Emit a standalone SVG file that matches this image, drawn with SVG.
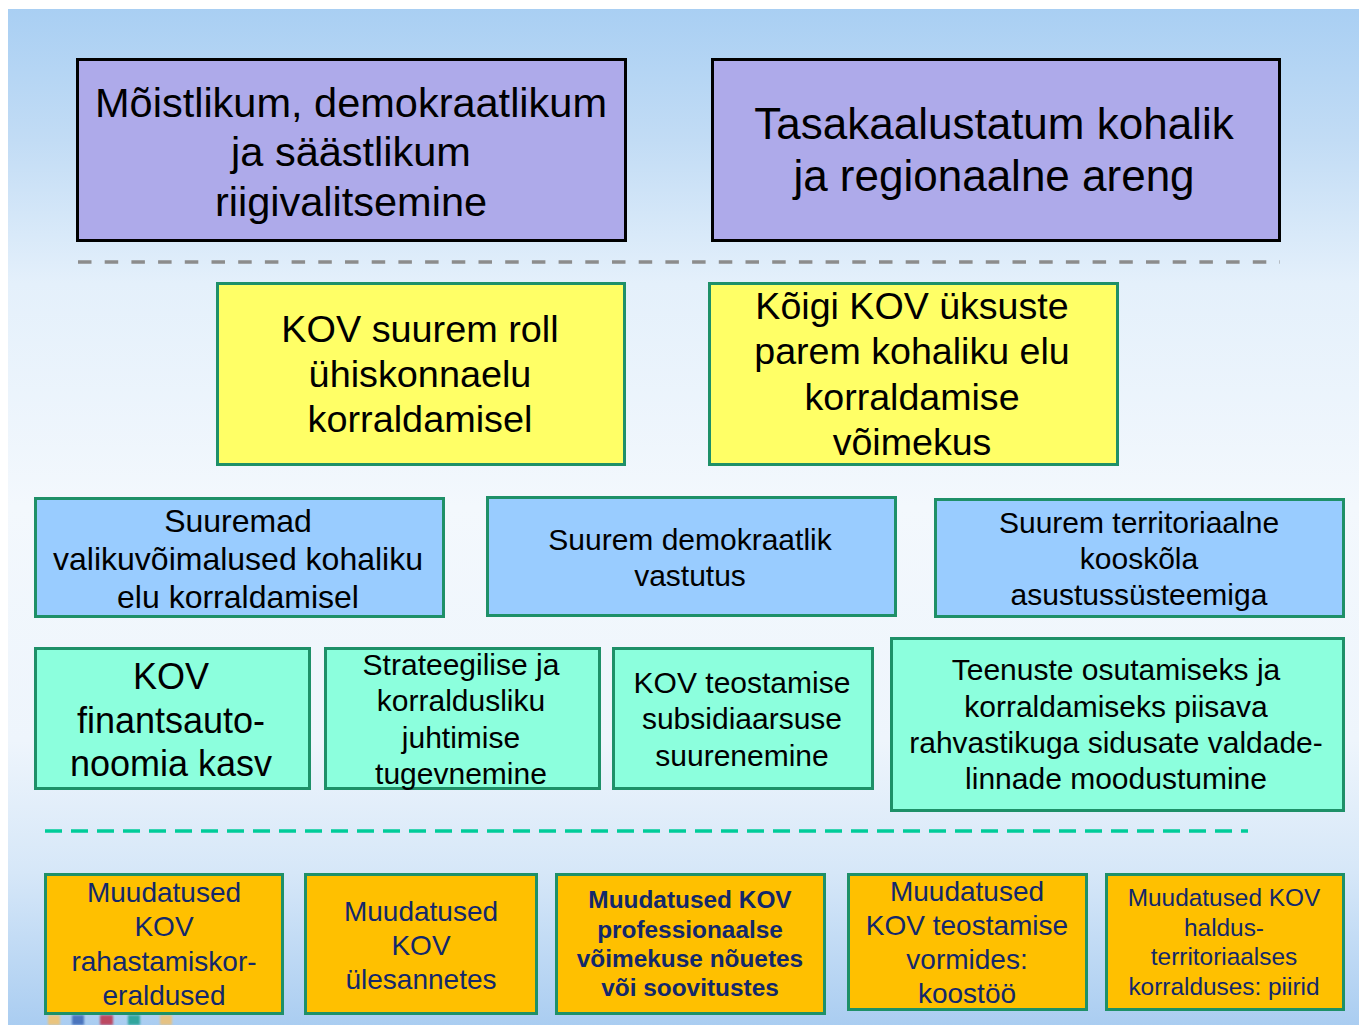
<svg xmlns="http://www.w3.org/2000/svg" width="1359" height="1025" viewBox="0 0 1359 1025">
  <defs>
    <linearGradient id="bgGrad" x1="0" y1="0" x2="0" y2="1">
      <stop offset="0" stop-color="#a9cff3"/>
      <stop offset="0.13" stop-color="#c2dcf5"/>
      <stop offset="0.27" stop-color="#e4f0fb"/>
      <stop offset="0.49" stop-color="#f3f8fd"/>
      <stop offset="0.72" stop-color="#eef5fc"/>
      <stop offset="0.85" stop-color="#d6e7f8"/>
      <stop offset="1" stop-color="#aacdf1"/>
    </linearGradient>
    <filter id="soft" x="-20%" y="-20%" width="140%" height="140%">
      <feGaussianBlur stdDeviation="1.2"/>
    </filter>
    <style>
      .t { font-family: "Liberation Sans", Arial, sans-serif; text-anchor: middle; fill: #000; }
      .navy { fill: #13286b; }
      .bold { font-weight: bold; }
      .goal { fill: #aeaaea; stroke: #000; stroke-width: 3; }
      .aim { fill: #ffff66; stroke: #1e9068; stroke-width: 3; }
      .res { fill: #99ccff; stroke: #1e9068; stroke-width: 3; }
      .out { fill: #8cffdd; stroke: #1e9068; stroke-width: 3; }
      .chg { fill: #ffc000; stroke: #1e9068; stroke-width: 3; }
      .sepGray { stroke: #8c8c8c; stroke-width: 3.5; stroke-dasharray: 13.5 13.2; fill: none; }
      .sepGreen { stroke: #00cc99; stroke-width: 3.5; stroke-dasharray: 17 9; fill: none; }
    </style>
  </defs>

  <!-- page background -->
  <rect x="0" y="0" width="1359" height="1025" fill="#ffffff"/>
  <rect x="8" y="9" width="1351" height="1016" fill="url(#bgGrad)"/>
  <g id="footer-stripes" filter="url(#soft)" opacity="0.85">
    <rect x="48" y="1015" width="12" height="10" fill="#f5c36a"/>
    <rect x="72" y="1015" width="12" height="10" fill="#3a66b5"/>
    <rect x="100" y="1015" width="13" height="10" fill="#c0334a"/>
    <rect x="128" y="1015" width="12" height="10" fill="#1aa090"/>
    <rect x="160" y="1015" width="12" height="10" fill="#f0c070"/>
  </g>

  <!-- separators -->
  <g id="connectors">
    <line class="sepGray" x1="78" y1="262" x2="1280" y2="262"/>
    <line class="sepGreen" x1="45" y1="831" x2="1248" y2="831"/>
  </g>

  <!-- top goals -->
  <g id="goal-1">
    <rect class="goal" x="77.5" y="59.5" width="548" height="181"/>
    <text class="t" font-size="41.5" x="351" y="117">Mõistlikum, demokraatlikum</text>
    <text class="t" font-size="41.5" x="351" y="166">ja säästlikum</text>
    <text class="t" font-size="41.5" x="351" y="216">riigivalitsemine</text>
  </g>
  <g id="goal-2">
    <rect class="goal" x="712.5" y="59.5" width="567" height="181"/>
    <text class="t" font-size="44" x="994" y="139">Tasakaalustatum kohalik</text>
    <text class="t" font-size="44" x="994" y="191">ja regionaalne areng</text>
  </g>

  <!-- aims -->
  <g id="aim-1">
    <rect class="aim" x="217.5" y="283.5" width="407" height="181"/>
    <text class="t" font-size="37.8" x="420" y="342">KOV suurem roll</text>
    <text class="t" font-size="37.8" x="420" y="387">ühiskonnaelu</text>
    <text class="t" font-size="37.8" x="420" y="432">korraldamisel</text>
  </g>
  <g id="aim-2">
    <rect class="aim" x="709.5" y="283.5" width="408" height="181"/>
    <text class="t" font-size="37.6" x="912" y="319">Kõigi KOV üksuste</text>
    <text class="t" font-size="37.6" x="912" y="364">parem kohaliku elu</text>
    <text class="t" font-size="37.6" x="912" y="410">korraldamise</text>
    <text class="t" font-size="37.6" x="912" y="455">võimekus</text>
  </g>

  <!-- results -->
  <g id="result-1">
    <rect class="res" x="35.5" y="498.5" width="408" height="118"/>
    <text class="t" font-size="32" x="238" y="532">Suuremad</text>
    <text class="t" font-size="32" x="238" y="570">valikuvõimalused kohaliku</text>
    <text class="t" font-size="32" x="238" y="608">elu korraldamisel</text>
  </g>
  <g id="result-2">
    <rect class="res" x="487.5" y="497.5" width="408" height="118"/>
    <text class="t" font-size="30" x="690" y="550">Suurem demokraatlik</text>
    <text class="t" font-size="30" x="690" y="586">vastutus</text>
  </g>
  <g id="result-3">
    <rect class="res" x="935.5" y="499.5" width="408" height="117"/>
    <text class="t" font-size="30" x="1139" y="533">Suurem territoriaalne</text>
    <text class="t" font-size="30" x="1139" y="569">kooskõla</text>
    <text class="t" font-size="30" x="1139" y="605">asustussüsteemiga</text>
  </g>

  <!-- outcomes -->
  <g id="outcome-1">
    <rect class="out" x="35.5" y="648.5" width="274" height="140"/>
    <text class="t" font-size="36" x="171" y="689">KOV</text>
    <text class="t" font-size="36" x="171" y="733">finantsauto-</text>
    <text class="t" font-size="36" x="171" y="776">noomia kasv</text>
  </g>
  <g id="outcome-2">
    <rect class="out" x="325.5" y="648.5" width="274" height="140"/>
    <text class="t" font-size="30" x="461" y="675">Strateegilise ja</text>
    <text class="t" font-size="30" x="461" y="711">korraldusliku</text>
    <text class="t" font-size="30" x="461" y="748">juhtimise</text>
    <text class="t" font-size="30" x="461" y="784">tugevnemine</text>
  </g>
  <g id="outcome-3">
    <rect class="out" x="613.5" y="648.5" width="259" height="140"/>
    <text class="t" font-size="30" x="742" y="693">KOV teostamise</text>
    <text class="t" font-size="30" x="742" y="729">subsidiaarsuse</text>
    <text class="t" font-size="30" x="742" y="766">suurenemine</text>
  </g>
  <g id="outcome-4">
    <rect class="out" x="891.5" y="638.5" width="452" height="172"/>
    <text class="t" font-size="30" x="1116" y="680">Teenuste osutamiseks ja</text>
    <text class="t" font-size="30" x="1116" y="717">korraldamiseks piisava</text>
    <text class="t" font-size="30" x="1116" y="753">rahvastikuga sidusate valdade-</text>
    <text class="t" font-size="30" x="1116" y="789">linnade moodustumine</text>
  </g>

  <!-- changes -->
  <g id="change-1">
    <rect class="chg" x="45.5" y="874.5" width="237" height="139"/>
    <text class="t navy" font-size="28" x="164" y="902">Muudatused</text>
    <text class="t navy" font-size="28" x="164" y="936">KOV</text>
    <text class="t navy" font-size="28" x="164" y="971">rahastamiskor-</text>
    <text class="t navy" font-size="28" x="164" y="1005">eraldused</text>
  </g>
  <g id="change-2">
    <rect class="chg" x="305.5" y="874.5" width="231" height="139"/>
    <text class="t navy" font-size="28" x="421" y="921">Muudatused</text>
    <text class="t navy" font-size="28" x="421" y="955">KOV</text>
    <text class="t navy" font-size="28" x="421" y="989">ülesannetes</text>
  </g>
  <g id="change-3">
    <rect class="chg" x="556.5" y="874.5" width="268" height="139"/>
    <text class="t navy bold" font-size="24.4" x="690" y="908">Muudatused KOV</text>
    <text class="t navy bold" font-size="24.4" x="690" y="938">professionaalse</text>
    <text class="t navy bold" font-size="24.4" x="690" y="967">võimekuse nõuetes</text>
    <text class="t navy bold" font-size="24.4" x="690" y="996">või soovitustes</text>
  </g>
  <g id="change-4">
    <rect class="chg" x="848.5" y="874.5" width="238" height="135"/>
    <text class="t navy" font-size="28" x="967" y="901">Muudatused</text>
    <text class="t navy" font-size="28" x="967" y="935">KOV teostamise</text>
    <text class="t navy" font-size="28" x="967" y="969">vormides:</text>
    <text class="t navy" font-size="28" x="967" y="1003">koostöö</text>
  </g>
  <g id="change-5">
    <rect class="chg" x="1106.5" y="874.5" width="237" height="135"/>
    <text class="t navy" font-size="24.4" x="1224" y="906">Muudatused KOV</text>
    <text class="t navy" font-size="24.4" x="1224" y="936">haldus-</text>
    <text class="t navy" font-size="24.4" x="1224" y="965">territoriaalses</text>
    <text class="t navy" font-size="24.4" x="1224" y="995">korralduses: piirid</text>
  </g>
</svg>
